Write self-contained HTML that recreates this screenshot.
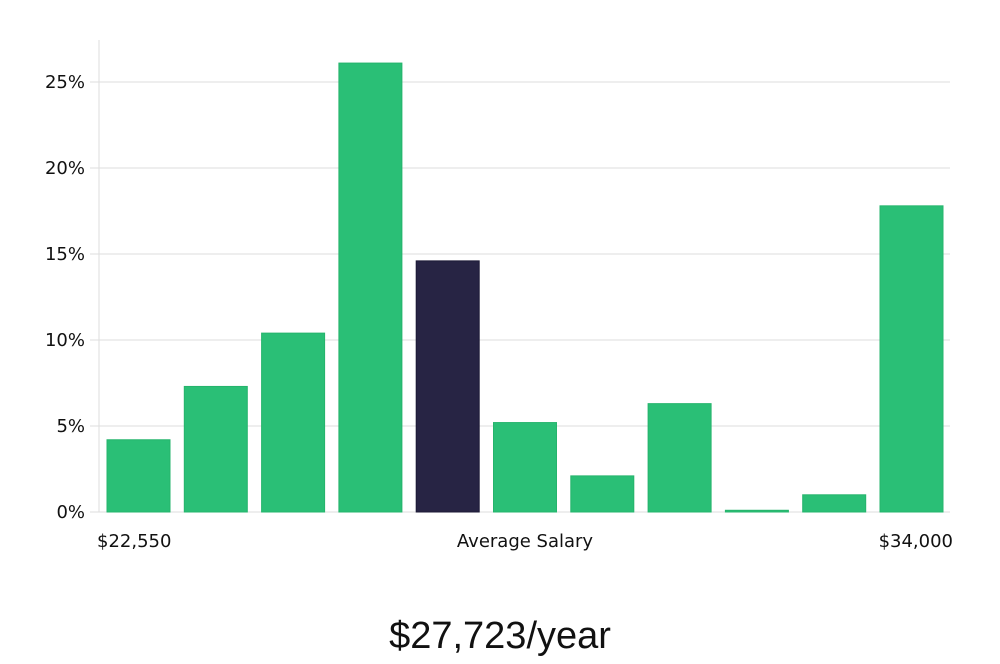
<!DOCTYPE html>
<html><head><meta charset="utf-8"><style>
body{margin:0;background:#fff;width:1000px;height:660px;overflow:hidden;font-family:"DejaVu Sans","Liberation Sans",sans-serif}
</style></head><body>
<svg id="chart" width="1000" height="660" xmlns="http://www.w3.org/2000/svg">
<g id="grid"></g><g id="bars"></g><g id="labels"></g>
<text x="500" y="648" text-anchor="middle" font-family="Liberation Sans Narrow, Liberation Sans, sans-serif" font-size="38" fill="#111">$27,723/year</text>
</svg>
<script>
const values=[4.2,7.3,10.4,26.1,14.6,5.2,2.1,6.3,0.1,1.0,17.8];
const highlight=[false,false,false,false,true,false,false,false,false,false,false];
const yTicks=[0,5,10,15,20,25];
const xLabels=["$22,550","Average Salary","$34,000"];
const NS="http://www.w3.org/2000/svg";
const y=v=>512-v*17.2;
const x=i=>107+i*77.3;
function mk(t,a,p){const e=document.createElementNS(NS,t);for(const k in a)e.setAttribute(k,a[k]);p.appendChild(e);return e;}
const g=document.getElementById('grid'),b=document.getElementById('bars'),l=document.getElementById('labels');
const ax=mk('line',{x1:99,x2:99,y1:40,y2:512,stroke:'#ddd'},g);


yTicks.forEach(t=>{
 const ln=mk('line',{x1:90,x2:950,y1:y(t),y2:y(t),stroke:'#ddd'},g);
 
 
 const tx=mk('text',{x:85,y:y(t)+6,'text-anchor':'end','font-size':18,fill:'#111'},l);
 tx.textContent=t+'%';
 
 
});
values.forEach((v,i)=>{
 const r=mk('rect',{x:x(i),y:y(v),width:63,height:Math.max(1,512-y(v)),fill:highlight[i]?'#272444':'#2abf76',stroke:highlight[i]?'#1c1a36':'#25b46c','stroke-width':1},b);
 
 
});
const xp=[[97,'start'],[525,'middle'],[953,'end']];
xLabels.forEach((s,i)=>{
 const tx=mk('text',{x:xp[i][0],y:547,'text-anchor':xp[i][1],'font-size':18,fill:'#111'},l);
 tx.textContent=s;
 
 
});
</script>
</body></html>
